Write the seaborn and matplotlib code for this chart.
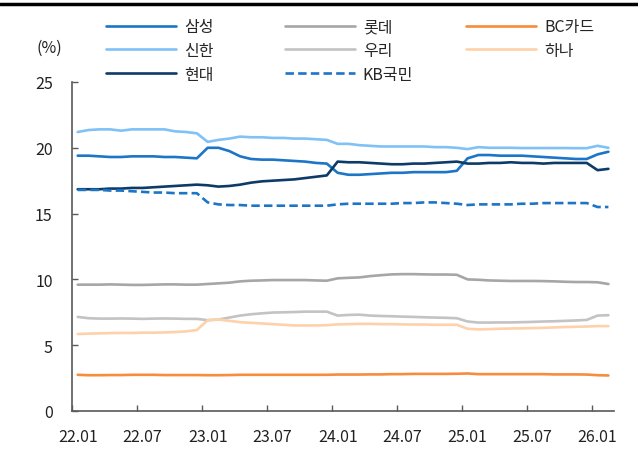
import pandas as pd
import seaborn as sns
import matplotlib.pyplot as plt
from matplotlib.lines import Line2D

# monthly data, 22.01 ~ 26.02 (%)
months = [f"{y}.{m:02d}" for y in range(22, 27) for m in range(1, 13)][:50]
tick_labels = ["22.01", "22.07", "23.01", "23.07", "24.01", "24.07", "25.01", "25.07", "26.01"]

samsung = [19.4, 19.4, 19.35, 19.3, 19.3, 19.35, 19.35, 19.35, 19.3, 19.3, 19.25, 19.2,
           20.0, 20.0, 19.75, 19.35, 19.15, 19.1, 19.1, 19.05, 19.0, 18.95, 18.85, 18.8,
           18.1, 17.95, 17.95, 18.0, 18.05, 18.1, 18.1, 18.15, 18.15, 18.15, 18.15, 18.25,
           19.2, 19.45, 19.45, 19.4, 19.4, 19.4, 19.35, 19.3, 19.25, 19.2, 19.15, 19.15,
           19.5, 19.7]
shinhan = [21.2, 21.35, 21.4, 21.4, 21.3, 21.4, 21.4, 21.4, 21.4, 21.25, 21.2, 21.1,
           20.45, 20.6, 20.7, 20.85, 20.8, 20.8, 20.75, 20.75, 20.7, 20.7, 20.65, 20.6,
           20.3, 20.3, 20.2, 20.15, 20.1, 20.1, 20.1, 20.1, 20.1, 20.05, 20.05, 20.0,
           19.9, 20.05, 20.0, 20.0, 20.0, 19.98, 19.98, 19.98, 19.98, 19.98, 19.97, 19.97,
           20.15, 20.0]
hyundai = [16.85, 16.85, 16.85, 16.9, 16.9, 16.95, 16.95, 17.0, 17.05, 17.1, 17.15, 17.2,
           17.15, 17.05, 17.1, 17.2, 17.35, 17.45, 17.5, 17.55, 17.6, 17.7, 17.8, 17.9,
           18.95, 18.9, 18.9, 18.85, 18.8, 18.75, 18.75, 18.8, 18.8, 18.85, 18.9, 18.95,
           18.8, 18.8, 18.85, 18.85, 18.9, 18.85, 18.85, 18.8, 18.85, 18.85, 18.85, 18.85,
           18.3, 18.4]
kb = [16.8, 16.8, 16.8, 16.75, 16.75, 16.7, 16.65, 16.6, 16.6, 16.55, 16.55, 16.55,
      15.85, 15.7, 15.65, 15.65, 15.6, 15.6, 15.6, 15.6, 15.6, 15.6, 15.6, 15.6,
      15.7, 15.75, 15.75, 15.75, 15.75, 15.75, 15.8, 15.8, 15.85, 15.85, 15.8, 15.75,
      15.65, 15.7, 15.7, 15.7, 15.7, 15.75, 15.75, 15.8, 15.8, 15.8, 15.8, 15.8,
      15.5, 15.5]
lotte = [9.6, 9.6, 9.6, 9.62, 9.6, 9.58, 9.58, 9.6, 9.62, 9.62, 9.6, 9.6,
         9.65, 9.7, 9.75, 9.85, 9.9, 9.92, 9.95, 9.95, 9.95, 9.95, 9.92, 9.9,
         10.08, 10.12, 10.15, 10.25, 10.32, 10.38, 10.4, 10.4, 10.38, 10.37, 10.37, 10.35,
         10.0, 9.97, 9.92, 9.9, 9.88, 9.88, 9.88, 9.87, 9.85, 9.82, 9.8, 9.8,
         9.78, 9.65]
woori = [7.15, 7.05, 7.02, 7.02, 7.03, 7.02, 7.0, 7.02, 7.03, 7.02, 7.0, 7.0,
         6.9, 6.95, 7.1, 7.25, 7.35, 7.42, 7.48, 7.5, 7.52, 7.55, 7.55, 7.55,
         7.25, 7.3, 7.32, 7.25, 7.22, 7.2, 7.17, 7.15, 7.12, 7.1, 7.08, 7.05,
         6.8, 6.72, 6.72, 6.73, 6.73, 6.75, 6.77, 6.8, 6.82, 6.85, 6.88, 6.92,
         7.25, 7.28]
hana = [5.85, 5.88, 5.9, 5.92, 5.93, 5.93, 5.95, 5.95, 5.97, 6.0, 6.05, 6.15,
        6.9, 6.95, 6.85, 6.75, 6.7, 6.65, 6.6, 6.55, 6.5, 6.5, 6.5, 6.52,
        6.58, 6.6, 6.62, 6.62, 6.6, 6.6, 6.58, 6.57, 6.57, 6.55, 6.55, 6.55,
        6.25, 6.2, 6.22, 6.25, 6.27, 6.28, 6.3, 6.32, 6.35, 6.38, 6.4, 6.42,
        6.45, 6.45]
bc = [2.75, 2.72, 2.72, 2.73, 2.73, 2.75, 2.75, 2.75, 2.73, 2.73, 2.73, 2.73,
      2.72, 2.72, 2.73, 2.75, 2.75, 2.75, 2.75, 2.75, 2.75, 2.75, 2.75, 2.75,
      2.77, 2.77, 2.77, 2.78, 2.78, 2.8, 2.8, 2.82, 2.82, 2.82, 2.82, 2.83,
      2.85, 2.8, 2.8, 2.8, 2.8, 2.8, 2.8, 2.8, 2.78, 2.78, 2.78, 2.77,
      2.72, 2.7]

# name, values, color, linestyle  (legend column order)
series = [
    ("삼성", samsung, "#1c75c6", "-"),
    ("신한", shinhan, "#80c1f6", "-"),
    ("현대", hyundai, "#0d3b68", "-"),
    ("롯데", lotte, "#a6a6a6", "-"),
    ("우리", woori, "#c3c3c3", "-"),
    ("KB국민", kb, "#1c75c6", (0, (3.2, 1.6))),
    ("BC카드", bc, "#f68c3c", "-"),
    ("하나", hana, "#fdd1a9", "-"),
]

sns.set_style("white")
plt.rcParams['font.family'] = ['Noto Sans CJK KR', 'DejaVu Sans']

fig = plt.figure(figsize=(6.38, 4.56), dpi=100)
ax = fig.add_axes([0.1133, 0.0965, 0.8488, 0.7215])

x = list(range(len(months)))
handles = []
for name, vals, color, ls in series:
    df = pd.DataFrame({"x": x, "v": vals})
    sns.lineplot(data=df, x="x", y="v", ax=ax, color=color, linestyle=ls, linewidth=1.9)
    handles.append(Line2D([], [], color=color, linestyle=ls, linewidth=1.9, label=name))

ax.set_xlim(-0.5, 49.5)
ax.set_ylim(0, 25)
ax.set_yticks([0, 5, 10, 15, 20, 25])
ax.set_xticks(list(range(0, 49, 6)))
ax.set_xticklabels(tick_labels)
ax.set_xticks([k - 0.5 for k in range(0, 49, 6)], minor=True)
ax.set_xlabel("")
ax.set_ylabel("")

ax.tick_params(axis="x", which="major", length=0, pad=12, labelsize=11.5, colors="#222222")
ax.tick_params(axis="x", which="minor", direction="in", length=4.5, width=1, color="#595959", bottom=True)
ax.tick_params(axis="y", direction="in", length=4.5, width=1, color="#595959", pad=14,
               labelsize=11.5, labelcolor="#222222", left=True)

sns.despine(ax=ax)
for s in ["left", "bottom"]:
    ax.spines[s].set_color("#595959")
    ax.spines[s].set_linewidth(1.2)

# legend: three columns placed separately
col_x = [0.166, 0.446, 0.73]
for i in range(3):
    leg = fig.legend(handles=handles[i * 3:(i + 1) * 3], loc="upper left",
                     bbox_to_anchor=(col_x[i], 0.958), frameon=False, fontsize=11.5,
                     handlelength=4.4, handletextpad=0.5, labelspacing=0.42,
                     borderaxespad=0, borderpad=0)

fig.text(0.078, 0.895, "(%)", fontsize=11.5, ha="center", va="center", color="#222222")

# top rule
fig.add_artist(Line2D([0, 1], [0.988, 0.988], color="black", linewidth=2.5,
                      transform=fig.transFigure))

fig.savefig("out.png", dpi=100)
